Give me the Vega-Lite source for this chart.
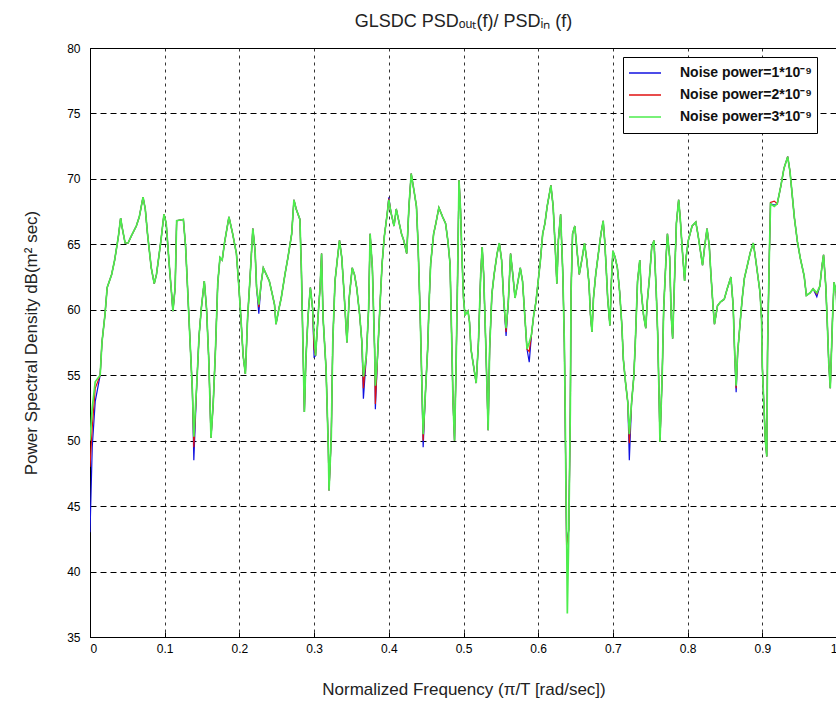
{
  "$schema": "https://vega.github.io/schema/vega-lite/v6.json",
  "width": 747,
  "height": 589,
  "autosize": "none",
  "padding": {"left": 90, "top": 48, "right": 0, "bottom": 78},
  "background": "white",
  "title": {"text": "GLSDC PSDₒᵤₜ(f)/ PSDᵢₙ (f)", "fontSize": 18, "fontWeight": "normal", "font": "Liberation Sans", "color": "#222222", "offset": 11, "anchor": "middle"},
  "data": {"values": [
    {"f":0.000,"b":43,"r":48,"g":50},
    {"f":0.003,"b":49.5,"r":51,"g":52.5},
    {"f":0.007,"b":53,"r":54,"g":54.5},
    {"f":0.0136,"b":55,"r":55,"g":55},
    {"f":0.016,"b":57.5,"r":57.5,"g":57.5},
    {"f":0.02,"b":59.6,"r":59.6,"g":59.6},
    {"f":0.023,"b":61.7,"r":61.7,"g":61.7},
    {"f":0.029,"b":62.7,"r":62.7,"g":62.7},
    {"f":0.033,"b":63.8,"r":63.8,"g":63.8},
    {"f":0.038,"b":65.6,"r":65.6,"g":65.6},
    {"f":0.041,"b":67,"r":67,"g":67},
    {"f":0.043,"b":66.3,"r":66.3,"g":66.3},
    {"f":0.047,"b":65.1,"r":65.1,"g":65.1},
    {"f":0.051,"b":65.1,"r":65.1,"g":65.1},
    {"f":0.055,"b":65.6,"r":65.6,"g":65.6},
    {"f":0.062,"b":66.4,"r":66.4,"g":66.4},
    {"f":0.066,"b":67.1,"r":67.1,"g":67.1},
    {"f":0.071,"b":68.6,"r":68.6,"g":68.6},
    {"f":0.074,"b":67.7,"r":67.7,"g":67.7},
    {"f":0.077,"b":65.8,"r":65.8,"g":65.8},
    {"f":0.082,"b":63.2,"r":63.2,"g":63.2},
    {"f":0.086,"b":62,"r":62,"g":62},
    {"f":0.089,"b":62.7,"r":62.7,"g":62.7},
    {"f":0.095,"b":65.3,"r":65.3,"g":65.3},
    {"f":0.099,"b":67.3,"r":67.3,"g":67.3},
    {"f":0.102,"b":66.6,"r":66.6,"g":66.6},
    {"f":0.106,"b":63.5,"r":63.5,"g":63.5},
    {"f":0.109,"b":61.4,"r":61.4,"g":61.4},
    {"f":0.111,"b":59.9,"r":59.9,"g":59.9},
    {"f":0.114,"b":61.7,"r":61.7,"g":61.7},
    {"f":0.116,"b":66.8,"r":66.8,"g":66.8},
    {"f":0.125,"b":66.9,"r":66.9,"g":66.9},
    {"f":0.128,"b":64.8,"r":64.8,"g":64.8},
    {"f":0.131,"b":61.2,"r":61.2,"g":61.2},
    {"f":0.134,"b":57.5,"r":57.5,"g":57.5},
    {"f":0.137,"b":53.9,"r":53.9,"g":53.9},
    {"f":0.139,"b":48.5,"r":49.5,"g":50.3},
    {"f":0.143,"b":54.4,"r":54.4,"g":54.4},
    {"f":0.146,"b":58,"r":58,"g":58},
    {"f":0.149,"b":60.1,"r":60.1,"g":60.1},
    {"f":0.153,"b":62.2,"r":62.2,"g":62.2},
    {"f":0.156,"b":60.1,"r":60.1,"g":60.1},
    {"f":0.159,"b":56.2,"r":56.2,"g":56.2},
    {"f":0.162,"b":50.2,"r":50.2,"g":50.2},
    {"f":0.165,"b":52.9,"r":52.9,"g":52.9},
    {"f":0.168,"b":57,"r":57,"g":57},
    {"f":0.171,"b":62,"r":62,"g":62},
    {"f":0.174,"b":64,"r":64,"g":64},
    {"f":0.177,"b":63.8,"r":63.8,"g":63.8},
    {"f":0.18,"b":65.1,"r":65.1,"g":65.1},
    {"f":0.186,"b":67.1,"r":67.1,"g":67.1},
    {"f":0.191,"b":65.8,"r":65.8,"g":65.8},
    {"f":0.196,"b":64.3,"r":64.3,"g":64.3},
    {"f":0.199,"b":62,"r":62,"g":62},
    {"f":0.202,"b":59.4,"r":59.4,"g":59.4},
    {"f":0.205,"b":56.5,"r":56.5,"g":56.5},
    {"f":0.208,"b":55.1,"r":55.1,"g":55.1},
    {"f":0.211,"b":59.4,"r":59.4,"g":59.4},
    {"f":0.214,"b":62.2,"r":62.2,"g":62.2},
    {"f":0.218,"b":66.2,"r":66.2,"g":66.2},
    {"f":0.221,"b":64.5,"r":64.5,"g":64.5},
    {"f":0.223,"b":61.7,"r":61.7,"g":61.7},
    {"f":0.226,"b":59.7,"r":60.2,"g":60.4},
    {"f":0.229,"b":62,"r":62,"g":62},
    {"f":0.232,"b":63.2,"r":63.2,"g":63.2},
    {"f":0.236,"b":62.7,"r":62.7,"g":62.7},
    {"f":0.24,"b":62.2,"r":62.2,"g":62.2},
    {"f":0.244,"b":61.2,"r":61.2,"g":61.2},
    {"f":0.247,"b":60.4,"r":60.4,"g":60.4},
    {"f":0.249,"b":58.9,"r":58.9,"g":58.9},
    {"f":0.253,"b":60.1,"r":60.1,"g":60.1},
    {"f":0.256,"b":60.9,"r":60.9,"g":60.9},
    {"f":0.261,"b":62.7,"r":62.7,"g":62.7},
    {"f":0.265,"b":64,"r":64,"g":64},
    {"f":0.27,"b":65.8,"r":65.8,"g":65.8},
    {"f":0.273,"b":68.4,"r":68.4,"g":68.4},
    {"f":0.276,"b":67.7,"r":67.7,"g":67.7},
    {"f":0.281,"b":66.9,"r":66.9,"g":66.9},
    {"f":0.283,"b":63,"r":63,"g":63},
    {"f":0.285,"b":57.5,"r":57.5,"g":57.5},
    {"f":0.287,"b":52.2,"r":52.2,"g":52.2},
    {"f":0.289,"b":56.2,"r":56.2,"g":56.2},
    {"f":0.292,"b":59.6,"r":59.6,"g":59.6},
    {"f":0.295,"b":61.7,"r":61.7,"g":61.7},
    {"f":0.298,"b":60.1,"r":60.1,"g":60.1},
    {"f":0.3,"b":56.4,"r":57,"g":58.1},
    {"f":0.302,"b":56.5,"r":56.5,"g":56.5},
    {"f":0.306,"b":60.1,"r":60.1,"g":60.1},
    {"f":0.308,"b":61.7,"r":61.7,"g":61.7},
    {"f":0.31,"b":64.3,"r":64.3,"g":64.3},
    {"f":0.312,"b":59.4,"r":59.4,"g":59.4},
    {"f":0.316,"b":55.5,"r":55.5,"g":55.5},
    {"f":0.319,"b":49.5,"r":49.5,"g":49.5},
    {"f":0.32,"b":46.2,"r":46.2,"g":46.2},
    {"f":0.323,"b":50.3,"r":50.3,"g":50.3},
    {"f":0.325,"b":57.5,"r":57.5,"g":57.5},
    {"f":0.328,"b":62.2,"r":62.2,"g":62.2},
    {"f":0.331,"b":63.8,"r":63.8,"g":63.8},
    {"f":0.334,"b":65.3,"r":65.3,"g":65.3},
    {"f":0.337,"b":64,"r":64,"g":64},
    {"f":0.34,"b":61.4,"r":61.4,"g":61.4},
    {"f":0.344,"b":57.5,"r":57.5,"g":57.5},
    {"f":0.347,"b":60.9,"r":60.9,"g":60.9},
    {"f":0.351,"b":63.2,"r":63.2,"g":63.2},
    {"f":0.354,"b":62.7,"r":62.7,"g":62.7},
    {"f":0.357,"b":61.7,"r":61.7,"g":61.7},
    {"f":0.361,"b":59.6,"r":59.6,"g":59.6},
    {"f":0.364,"b":57.5,"r":57.5,"g":57.5},
    {"f":0.366,"b":53.2,"r":54,"g":54.9},
    {"f":0.37,"b":56.5,"r":56.5,"g":56.5},
    {"f":0.373,"b":60.1,"r":60.1,"g":60.1},
    {"f":0.375,"b":65.8,"r":65.8,"g":65.8},
    {"f":0.378,"b":63.2,"r":63.2,"g":63.2},
    {"f":0.381,"b":57,"r":57,"g":57},
    {"f":0.382,"b":52.4,"r":52.8,"g":54.2},
    {"f":0.385,"b":56.5,"r":56.5,"g":56.5},
    {"f":0.388,"b":60.1,"r":60.1,"g":60.1},
    {"f":0.391,"b":63.5,"r":63.5,"g":63.5},
    {"f":0.394,"b":65.6,"r":65.6,"g":65.6},
    {"f":0.398,"b":67.4,"r":67.4,"g":67.4},
    {"f":0.4,"b":68.6,"r":68.5,"g":68.4},
    {"f":0.403,"b":67.4,"r":67.4,"g":67.4},
    {"f":0.407,"b":66.4,"r":66.4,"g":66.4},
    {"f":0.41,"b":67.7,"r":67.7,"g":67.7},
    {"f":0.414,"b":66.6,"r":66.6,"g":66.6},
    {"f":0.417,"b":65.8,"r":65.8,"g":65.8},
    {"f":0.42,"b":65.3,"r":65.3,"g":65.3},
    {"f":0.424,"b":64.3,"r":64.3,"g":64.3},
    {"f":0.427,"b":67.9,"r":67.9,"g":67.9},
    {"f":0.43,"b":70.4,"r":70.4,"g":70.4},
    {"f":0.434,"b":69,"r":69,"g":69},
    {"f":0.437,"b":67.9,"r":67.9,"g":67.9},
    {"f":0.439,"b":65.3,"r":65.3,"g":65.3},
    {"f":0.442,"b":59.6,"r":59.6,"g":59.6},
    {"f":0.444,"b":55,"r":55,"g":55},
    {"f":0.446,"b":49.5,"r":50,"g":50.5},
    {"f":0.449,"b":53.6,"r":53.6,"g":53.6},
    {"f":0.452,"b":57,"r":57,"g":57},
    {"f":0.454,"b":60.6,"r":60.6,"g":60.6},
    {"f":0.456,"b":63.5,"r":63.5,"g":63.5},
    {"f":0.46,"b":65.8,"r":65.8,"g":65.8},
    {"f":0.463,"b":66.6,"r":66.6,"g":66.6},
    {"f":0.467,"b":67.8,"r":67.8,"g":67.8},
    {"f":0.472,"b":67.1,"r":67.1,"g":67.1},
    {"f":0.476,"b":66.6,"r":66.6,"g":66.6},
    {"f":0.479,"b":65.3,"r":65.3,"g":65.3},
    {"f":0.482,"b":63.5,"r":63.5,"g":63.5},
    {"f":0.484,"b":58.3,"r":58.3,"g":58.3},
    {"f":0.486,"b":52.9,"r":52.9,"g":52.9},
    {"f":0.488,"b":50,"r":50,"g":50},
    {"f":0.49,"b":55.5,"r":55.5,"g":55.5},
    {"f":0.492,"b":62.2,"r":62.2,"g":62.2},
    {"f":0.494,"b":69.9,"r":69.9,"g":69.9},
    {"f":0.496,"b":67.7,"r":67.7,"g":67.7},
    {"f":0.498,"b":64,"r":64,"g":64},
    {"f":0.5,"b":60.9,"r":60.9,"g":60.9},
    {"f":0.502,"b":59.6,"r":59.6,"g":59.6},
    {"f":0.506,"b":59.9,"r":59.9,"g":59.9},
    {"f":0.508,"b":59.1,"r":59.1,"g":59.1},
    {"f":0.51,"b":57,"r":57,"g":57},
    {"f":0.514,"b":55.5,"r":55.5,"g":55.5},
    {"f":0.517,"b":54.4,"r":54.4,"g":54.4},
    {"f":0.52,"b":57.5,"r":57.5,"g":57.5},
    {"f":0.523,"b":62.7,"r":62.7,"g":62.7},
    {"f":0.525,"b":64.8,"r":64.8,"g":64.8},
    {"f":0.527,"b":62.7,"r":62.7,"g":62.7},
    {"f":0.53,"b":57,"r":57,"g":57},
    {"f":0.533,"b":50.8,"r":50.8,"g":50.8},
    {"f":0.535,"b":57,"r":57,"g":57},
    {"f":0.538,"b":61.2,"r":61.2,"g":61.2},
    {"f":0.541,"b":62.7,"r":62.7,"g":62.7},
    {"f":0.545,"b":64.3,"r":64.3,"g":64.3},
    {"f":0.548,"b":65.1,"r":65.1,"g":65.1},
    {"f":0.551,"b":63.8,"r":63.8,"g":63.8},
    {"f":0.554,"b":60.6,"r":60.6,"g":60.6},
    {"f":0.557,"b":58,"r":58.3,"g":58.6},
    {"f":0.56,"b":60.6,"r":60.6,"g":60.6},
    {"f":0.563,"b":64.3,"r":64.3,"g":64.3},
    {"f":0.566,"b":62.7,"r":62.7,"g":62.7},
    {"f":0.569,"b":60.9,"r":60.9,"g":60.9},
    {"f":0.573,"b":62.2,"r":62.2,"g":62.2},
    {"f":0.576,"b":63.2,"r":63.2,"g":63.2},
    {"f":0.579,"b":62.2,"r":62.2,"g":62.2},
    {"f":0.582,"b":59.6,"r":59.6,"g":59.6},
    {"f":0.585,"b":57,"r":57,"g":57},
    {"f":0.588,"b":56,"r":56.8,"g":57.5},
    {"f":0.591,"b":58.1,"r":58.1,"g":58.1},
    {"f":0.594,"b":59.6,"r":59.6,"g":59.6},
    {"f":0.597,"b":60.6,"r":60.6,"g":60.6},
    {"f":0.6,"b":62.2,"r":62.2,"g":62.2},
    {"f":0.603,"b":63.8,"r":63.8,"g":63.8},
    {"f":0.606,"b":65.8,"r":65.8,"g":65.8},
    {"f":0.609,"b":66.6,"r":66.6,"g":66.6},
    {"f":0.612,"b":67.9,"r":67.9,"g":67.9},
    {"f":0.617,"b":69.5,"r":69.5,"g":69.5},
    {"f":0.62,"b":67.9,"r":67.9,"g":67.9},
    {"f":0.623,"b":64.5,"r":64.5,"g":64.5},
    {"f":0.625,"b":62,"r":62,"g":62},
    {"f":0.627,"b":65.3,"r":65.3,"g":65.3},
    {"f":0.63,"b":67.3,"r":67.3,"g":67.3},
    {"f":0.633,"b":62.7,"r":62.7,"g":62.7},
    {"f":0.635,"b":57.5,"r":57.5,"g":57.5},
    {"f":0.636,"b":52.5,"r":52.6,"g":52.9},
    {"f":0.637,"b":47.1,"r":47.1,"g":47.1},
    {"f":0.638,"b":42.2,"r":42,"g":43.2},
    {"f":0.639,"b":42.5,"r":42.3,"g":36.8},
    {"f":0.641,"b":43.2,"r":43.2,"g":43.2},
    {"f":0.643,"b":52.3,"r":52.3,"g":52.3},
    {"f":0.644,"b":61.4,"r":61.4,"g":61.4},
    {"f":0.646,"b":65.8,"r":65.8,"g":65.8},
    {"f":0.649,"b":66.4,"r":66.4,"g":66.4},
    {"f":0.652,"b":64.5,"r":64.5,"g":64.5},
    {"f":0.655,"b":62.7,"r":62.7,"g":62.7},
    {"f":0.659,"b":64,"r":64,"g":64},
    {"f":0.662,"b":65.1,"r":65.1,"g":65.1},
    {"f":0.665,"b":63.8,"r":63.8,"g":63.8},
    {"f":0.668,"b":62,"r":62,"g":62},
    {"f":0.67,"b":59.6,"r":59.6,"g":59.6},
    {"f":0.672,"b":58.3,"r":58.3,"g":58.3},
    {"f":0.674,"b":60.9,"r":60.9,"g":60.9},
    {"f":0.677,"b":62.7,"r":62.7,"g":62.7},
    {"f":0.681,"b":64.5,"r":64.5,"g":64.5},
    {"f":0.684,"b":65.8,"r":65.8,"g":65.8},
    {"f":0.687,"b":66.8,"r":66.8,"g":66.8},
    {"f":0.689,"b":65.3,"r":65.3,"g":65.3},
    {"f":0.691,"b":63.2,"r":63.2,"g":63.2},
    {"f":0.693,"b":60.9,"r":60.9,"g":60.9},
    {"f":0.696,"b":58.8,"r":58.8,"g":58.8},
    {"f":0.698,"b":62.2,"r":62.2,"g":62.2},
    {"f":0.7,"b":64.5,"r":64.5,"g":64.5},
    {"f":0.703,"b":64,"r":64,"g":64},
    {"f":0.706,"b":63.2,"r":63.2,"g":63.2},
    {"f":0.709,"b":61.4,"r":61.4,"g":61.4},
    {"f":0.712,"b":58.8,"r":58.8,"g":58.8},
    {"f":0.714,"b":56.2,"r":56.2,"g":56.2},
    {"f":0.717,"b":54.4,"r":54.4,"g":54.4},
    {"f":0.72,"b":52.9,"r":52.9,"g":52.9},
    {"f":0.722,"b":48.5,"r":49.8,"g":50.5},
    {"f":0.725,"b":52.9,"r":52.9,"g":52.9},
    {"f":0.728,"b":54.9,"r":54.9,"g":54.9},
    {"f":0.73,"b":57.5,"r":57.5,"g":57.5},
    {"f":0.733,"b":62.2,"r":62.2,"g":62.2},
    {"f":0.736,"b":63.8,"r":63.8,"g":63.8},
    {"f":0.738,"b":61.4,"r":61.4,"g":61.4},
    {"f":0.741,"b":59.6,"r":59.6,"g":59.6},
    {"f":0.744,"b":58.6,"r":58.6,"g":58.6},
    {"f":0.746,"b":60.6,"r":60.6,"g":60.6},
    {"f":0.749,"b":62.5,"r":62.5,"g":62.5},
    {"f":0.752,"b":64.8,"r":64.8,"g":64.8},
    {"f":0.755,"b":65.3,"r":65.3,"g":65.3},
    {"f":0.758,"b":61.4,"r":61.4,"g":61.4},
    {"f":0.76,"b":58.1,"r":58.1,"g":58.1},
    {"f":0.762,"b":52.9,"r":52.9,"g":52.9},
    {"f":0.763,"b":49.9,"r":49.9,"g":49.9},
    {"f":0.766,"b":55,"r":55,"g":55},
    {"f":0.768,"b":60.1,"r":60.1,"g":60.1},
    {"f":0.771,"b":63.8,"r":63.8,"g":63.8},
    {"f":0.773,"b":65.8,"r":65.8,"g":65.8},
    {"f":0.776,"b":64,"r":64,"g":64},
    {"f":0.778,"b":59.6,"r":59.6,"g":59.6},
    {"f":0.78,"b":57.8,"r":57.8,"g":57.8},
    {"f":0.783,"b":63.2,"r":63.2,"g":63.2},
    {"f":0.785,"b":66.6,"r":66.6,"g":66.6},
    {"f":0.788,"b":68.4,"r":68.4,"g":68.4},
    {"f":0.79,"b":67.1,"r":67.1,"g":67.1},
    {"f":0.793,"b":64.5,"r":64.5,"g":64.5},
    {"f":0.796,"b":62.2,"r":62.2,"g":62.2},
    {"f":0.798,"b":64,"r":64,"g":64},
    {"f":0.801,"b":65.3,"r":65.3,"g":65.3},
    {"f":0.806,"b":66.4,"r":66.4,"g":66.4},
    {"f":0.811,"b":66.7,"r":66.7,"g":66.7},
    {"f":0.814,"b":65.7,"r":65.7,"g":65.7},
    {"f":0.82,"b":63.4,"r":63.4,"g":63.4},
    {"f":0.823,"b":64.9,"r":64.9,"g":64.9},
    {"f":0.826,"b":66.2,"r":66.2,"g":66.2},
    {"f":0.829,"b":64.9,"r":64.9,"g":64.9},
    {"f":0.831,"b":62.9,"r":62.9,"g":62.9},
    {"f":0.834,"b":60.3,"r":60.3,"g":60.3},
    {"f":0.836,"b":58.9,"r":58.9,"g":58.9},
    {"f":0.84,"b":60.3,"r":60.3,"g":60.3},
    {"f":0.844,"b":60.6,"r":60.6,"g":60.6},
    {"f":0.849,"b":60.8,"r":60.8,"g":60.8},
    {"f":0.853,"b":61.6,"r":61.6,"g":61.6},
    {"f":0.858,"b":62.5,"r":62.5,"g":62.5},
    {"f":0.861,"b":60.3,"r":60.3,"g":60.3},
    {"f":0.863,"b":56.7,"r":56.7,"g":56.7},
    {"f":0.865,"b":53.7,"r":54,"g":54.2},
    {"f":0.867,"b":56.7,"r":56.7,"g":56.7},
    {"f":0.87,"b":58.8,"r":58.8,"g":58.8},
    {"f":0.873,"b":60.8,"r":60.8,"g":60.8},
    {"f":0.876,"b":62.4,"r":62.4,"g":62.4},
    {"f":0.88,"b":63.4,"r":63.4,"g":63.4},
    {"f":0.884,"b":64.4,"r":64.4,"g":64.4},
    {"f":0.888,"b":65.1,"r":65.1,"g":65.1},
    {"f":0.891,"b":63.9,"r":63.9,"g":63.9},
    {"f":0.894,"b":62.6,"r":62.6,"g":62.6},
    {"f":0.897,"b":61.3,"r":61.3,"g":61.3},
    {"f":0.899,"b":59.3,"r":59.3,"g":59.3},
    {"f":0.9,"b":55.7,"r":55.7,"g":55.7},
    {"f":0.902,"b":52.9,"r":52.9,"g":52.9},
    {"f":0.904,"b":50.1,"r":50.1,"g":50.1},
    {"f":0.906,"b":48.8,"r":48.8,"g":48.8},
    {"f":0.907,"b":56.7,"r":56.7,"g":56.7},
    {"f":0.909,"b":63.1,"r":63.1,"g":63.1},
    {"f":0.911,"b":68.1,"r":68.2,"g":68.1},
    {"f":0.916,"b":68,"r":68.3,"g":67.9},
    {"f":0.92,"b":68.1,"r":68.1,"g":68.1},
    {"f":0.925,"b":69.5,"r":69.5,"g":69.5},
    {"f":0.929,"b":70.8,"r":70.8,"g":70.8},
    {"f":0.934,"b":71.7,"r":71.7,"g":71.7},
    {"f":0.937,"b":70.6,"r":70.6,"g":70.6},
    {"f":0.94,"b":68.8,"r":68.8,"g":68.8},
    {"f":0.943,"b":67,"r":67,"g":67},
    {"f":0.947,"b":65.2,"r":65.2,"g":65.2},
    {"f":0.951,"b":63.9,"r":63.9,"g":63.9},
    {"f":0.956,"b":62.6,"r":62.6,"g":62.6},
    {"f":0.959,"b":61.1,"r":61.1,"g":61.1},
    {"f":0.964,"b":61.3,"r":61.3,"g":61.3},
    {"f":0.968,"b":61.6,"r":61.6,"g":61.6},
    {"f":0.973,"b":61,"r":61.2,"g":61.3},
    {"f":0.977,"b":61.8,"r":61.8,"g":61.8},
    {"f":0.98,"b":63.4,"r":63.4,"g":63.4},
    {"f":0.982,"b":64.2,"r":64.2,"g":64.2},
    {"f":0.985,"b":61.8,"r":61.8,"g":61.8},
    {"f":0.987,"b":59,"r":59,"g":59},
    {"f":0.989,"b":55.9,"r":55.9,"g":55.9},
    {"f":0.991,"b":54,"r":54,"g":54},
    {"f":0.994,"b":59.3,"r":59.3,"g":59.3},
    {"f":0.996,"b":62.1,"r":62.1,"g":62.1},
    {"f":0.999,"b":61.3,"r":61.3,"g":61.3},
    {"f":1.0,"b":60,"r":60,"g":60}
  ]},
  "encoding": {
    "x": {
      "field": "f", "type": "quantitative",
      "scale": {"domain": [0, 1], "nice": false, "zero": false},
      "axis": {
        "values": [0, 0.1, 0.2, 0.3, 0.4, 0.5, 0.6, 0.7, 0.8, 0.9, 1],
        "format": ".1~f",
        "title": "Normalized Frequency (π/T [rad/sec])",
        "titlePadding": 27,
        "labelPadding": 11,
        "gridDash": [3, 4],
        "gridColor": "#333333"
      }
    }
  },
  "layer": [
    {
      "mark": {"type": "line", "strokeWidth": 1.2, "clip": true},
      "encoding": {
        "y": {
          "field": "b", "type": "quantitative",
          "scale": {"domain": [35, 80], "nice": false, "zero": false},
          "axis": {
            "values": [35, 40, 45, 50, 55, 60, 65, 70, 75, 80],
            "title": "Power Spectral Density dB(m² sec)",
            "titlePadding": 26,
            "labelPadding": 15,
            "gridDash": [6, 4],
            "gridColor": "#000000"
          }
        },
        "color": {"datum": "Noise power=1*10⁻⁹"}
      }
    },
    {
      "mark": {"type": "line", "strokeWidth": 1.2, "clip": true},
      "encoding": {
        "y": {"field": "r", "type": "quantitative"},
        "color": {"datum": "Noise power=2*10⁻⁹"}
      }
    },
    {
      "mark": {"type": "line", "strokeWidth": 1.7, "clip": true},
      "encoding": {
        "y": {"field": "g", "type": "quantitative"},
        "color": {
          "datum": "Noise power=3*10⁻⁹",
          "scale": {
            "domain": ["Noise power=1*10⁻⁹", "Noise power=2*10⁻⁹", "Noise power=3*10⁻⁹"],
            "range": ["#1010e0", "#e01010", "#4ded4d"]
          },
          "legend": {
            "title": null,
            "orient": "none",
            "legendX": 533,
            "legendY": 9,
            "symbolType": "stroke",
            "symbolSize": 1024,
            "symbolStrokeWidth": 1.5,
            "clipHeight": 22,
            "rowPadding": 0,
            "padding": 5,
            "labelOffset": 18,
            "labelFontSize": 14,
            "labelFontWeight": "bold",
            "labelFont": "Liberation Sans",
            "labelColor": "#111111",
            "strokeColor": "#000000",
            "fillColor": "#ffffff",
            "cornerRadius": 0
          }
        }
      }
    }
  ],
  "config": {
    "view": {"stroke": "#000000", "strokeWidth": 1},
    "axis": {
      "grid": true,
      "gridOpacity": 1,
      "gridWidth": 1,
      "domainColor": "#000000",
      "domainWidth": 1,
      "tickColor": "#000000",
      "tickSize": -5,
      "labelFont": "Liberation Sans",
      "labelFontSize": 12,
      "labelColor": "#000000",
      "titleFont": "Liberation Sans",
      "titleFontSize": 17,
      "titleFontWeight": "normal",
      "titleColor": "#222222"
    }
  }
}
